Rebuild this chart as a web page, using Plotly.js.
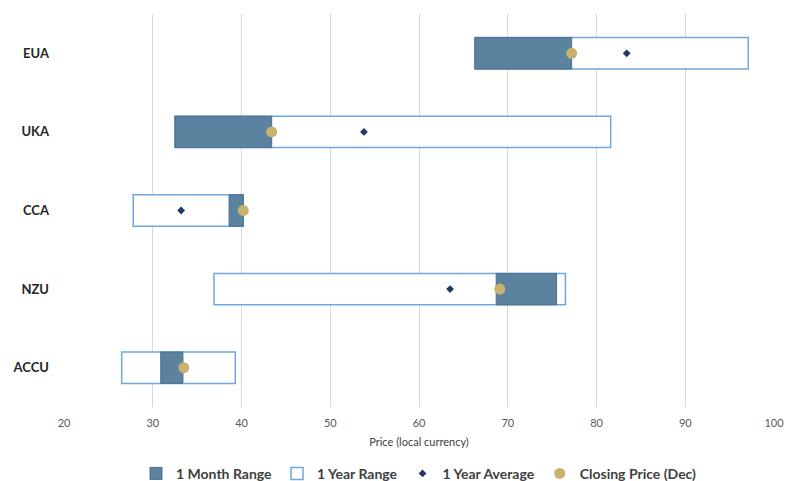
<!DOCTYPE html>
<html>
<head>
<meta charset="utf-8">
<script src="https://cdn.plot.ly/plotly-3.0.1.min.js"></script>
<style>html,body{margin:0;padding:0;background:#fff;}#chart{width:798px;height:481px;}</style>
</head>
<body>
<div id="chart"></div>
<script>
const markets = ["EUA", "UKA", "CCA", "NZU", "ACCU"];
const yearLow = [66.3, 32.5, 27.8, 36.9, 26.5];
const yearHigh = [97.1, 81.6, 40.2, 76.5, 39.3];
const monthLow = [66.3, 32.5, 38.6, 68.7, 30.9];
const monthHigh = [77.2, 43.4, 40.2, 75.5, 33.4];
const yearAvg = [83.4, 53.8, 33.2, 63.5, 33.3];
const closing = [77.2, 43.4, 40.2, 69.1, 33.5];

const font = "Lato, 'Open Sans', Arial, sans-serif";

const traces = [
  {
    type: "bar", orientation: "h", name: "1 Year Range",
    y: markets, base: yearLow, x: yearHigh.map((v, i) => v - yearLow[i]),
    width: 0.4,
    marker: {color: "#ffffff", line: {color: "#6fa8dc", width: 1.5}},
    hoverinfo: "skip", legendrank: 2
  },
  {
    type: "bar", orientation: "h", name: "1 Month Range",
    y: markets, base: monthLow, x: monthHigh.map((v, i) => v - monthLow[i]),
    width: 0.4,
    marker: {color: "#5b829e", line: {color: "#4a6f94", width: 1}},
    hoverinfo: "skip", legendrank: 1
  },
  {
    type: "scatter", mode: "markers", name: "1 Year Average",
    y: markets, x: yearAvg,
    marker: {symbol: "diamond", size: 6, color: "#1f3864"},
    legendrank: 3
  },
  {
    type: "scatter", mode: "markers", name: "Closing Price (Dec)",
    y: markets, x: closing,
    marker: {symbol: "circle", size: 11, color: "#c9b26b"},
    legendrank: 4
  }
];

const layout = {
  width: 798, height: 481,
  margin: {l: 64, r: 24, t: 14, b: 74, autoexpand: false},
  paper_bgcolor: "#ffffff", plot_bgcolor: "#ffffff",
  barmode: "overlay",
  font: {family: font, color: "#595959"},
  showlegend: true,
  legend: {
    orientation: "h", x: 0.5, xanchor: "center",
    yref: "container", y: 0.015, yanchor: "middle",
    font: {size: 14, color: "#404040", family: font, weight: "bold"},
    traceorder: "normal"
  },
  xaxis: {
    range: [20, 100], dtick: 10, tick0: 20,
    showgrid: true, gridcolor: "#d9d9d9", gridwidth: 1,
    zeroline: false, showline: false, ticks: "",
    tickfont: {size: 11, color: "#595959"},
    ticklabelstandoff: 8,
    title: {text: "Price (local currency)", font: {size: 11, color: "#404040"}, standoff: 10}
  },
  yaxis: {
    type: "category", categoryorder: "array", categoryarray: markets,
    autorange: "reversed",
    showgrid: false, zeroline: false, showline: false, ticks: "",
    tickfont: {size: 13, color: "#262626", family: font, weight: "bold"},
    ticklabelstandoff: 14
  }
};

Plotly.newPlot("chart", traces, layout, {displayModeBar: false, staticPlot: true});
</script>
</body>
</html>
